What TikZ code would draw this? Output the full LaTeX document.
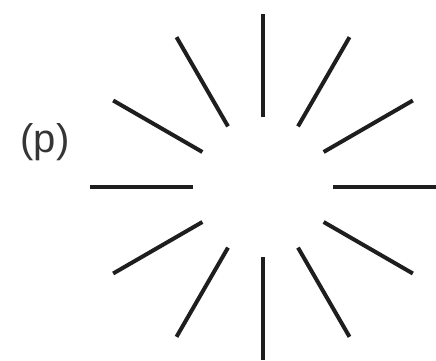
\documentclass[tikz,border=0pt]{standalone}
\usepackage{fontspec}
\setmainfont{Liberation Sans}
\usetikzlibrary{positioning, calc}
\definecolor{raycol}{HTML}{1E1E1E}
\tikzset{ray/.style={line width=4pt, color=raycol}}
\begin{document}
\begin{tikzpicture}[x=1pt, y=1pt]
\useasboundingbox (0,0) rectangle (436,361);
\coordinate (c) at (263,174);
\foreach \a in {0,30,...,330}
  \draw[ray] ($(c)+(\a:70)$) -- ($(c)+(\a:173)$);
\node[font=\fontsize{40}{44}\selectfont, text=raycol!90] (lbl) at (45,219) {(p)};
\end{tikzpicture}
\end{document}
